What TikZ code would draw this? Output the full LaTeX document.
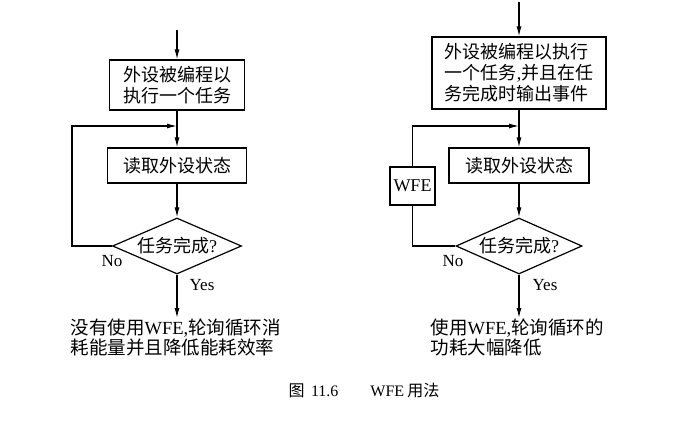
\documentclass[tikz,border=0pt]{standalone}
\usepackage{fontspec}
\setmainfont{Liberation Serif}
\newfontfamily\cjk{Noto Sans CJK SC}
\usetikzlibrary{arrows.meta,shapes.geometric}
\newcommand\zh[1]{{\cjk #1}}
\begin{document}
\begin{tikzpicture}[x=1pt,y=-1pt, line width=1.2pt,
 box/.style={draw, inner sep=0pt, align=center, font=\fontsize{18}{21}\selectfont},
 arr/.style={-{Latex[length=10pt,width=5pt]}},
 dia/.style={draw, diamond, aspect=2.3, inner sep=0pt, font=\fontsize{18}{21}\selectfont},
 lbl/.style={font=\fontsize{17}{20}\selectfont, inner sep=0pt},
 note/.style={align=left, inner sep=0pt, anchor=north west, font=\fontsize{18.5}{20}\selectfont}]
\useasboundingbox (0,0) rectangle (675,422);

% left chart
\coordinate (s1) at (177,30);
\node[box, minimum width=135pt, minimum height=50pt] (a1) at (177,85) {\zh{外设被编程以}\\\zh{执行一个任务}};
\node[box, minimum width=139pt, minimum height=35pt] (a2) at (177,165.5) {\zh{读取外设状态}};
\node[dia, minimum width=129pt, minimum height=56pt] (a3) at (177,246) {\zh{任务完成}?};
\coordinate (j1) at (177,126);
\node[note] (a4) at (70,318) {\zh{没有使用}WFE,\zh{轮询循环消}\\\zh{耗能量并且降低能耗效率}};
\node[lbl] (n1) at (112,261) {No};
\node[lbl] (y1) at (202,285) {Yes};
\draw[arr] (s1) -- (a1);
\draw[arr] (a1) -- (a2);
\draw[arr] (a2) -- (a3);
\draw[arr] (a3.west) -- ++(-40,0) |- (j1);
\draw[arr] (a3.south) -- (a3.south |- a4.north);

% right chart
\coordinate (s2) at (519,2);
\node[box, minimum width=174pt, minimum height=72pt, align=left] (b1) at (519,73) {\zh{外设被编程以执行}\\\zh{一个任务},\zh{并且在任}\\\zh{务完成时输出事件}};
\node[box, minimum width=140pt, minimum height=35pt] (b2) at (519,165.5) {\zh{读取外设状态}};
\node[box, minimum width=45pt, minimum height=38pt] (w) at (412.5,186) {WFE};
\node[dia, minimum width=126pt, minimum height=56pt] (b3) at (519,246) {\zh{任务完成}?};
\coordinate (j2) at (519,126);
\node[note] (b4) at (430,318) {\zh{使用}WFE,\zh{轮询循环的}\\\zh{功耗大幅降低}};
\node[lbl] (n2) at (453,261) {No};
\node[lbl] (y2) at (545,285) {Yes};
\draw[arr] (s2) -- (b1);
\draw[arr] (b1) -- (b2);
\draw[arr] (b2) -- (b3);
\draw (b3.west) -| (w.south);
\draw[arr] (w.north) |- (j2);
\draw[arr] (b3.south) -- (b3.south |- b4.north);

% caption
\node[inner sep=0pt, font=\fontsize{16}{18}\selectfont] (cap) at (364,390) {\zh{图}\hspace{0.4em}11.6\hspace{2em}WFE\hspace{0.2em}\zh{用法}};
\end{tikzpicture}
\end{document}
